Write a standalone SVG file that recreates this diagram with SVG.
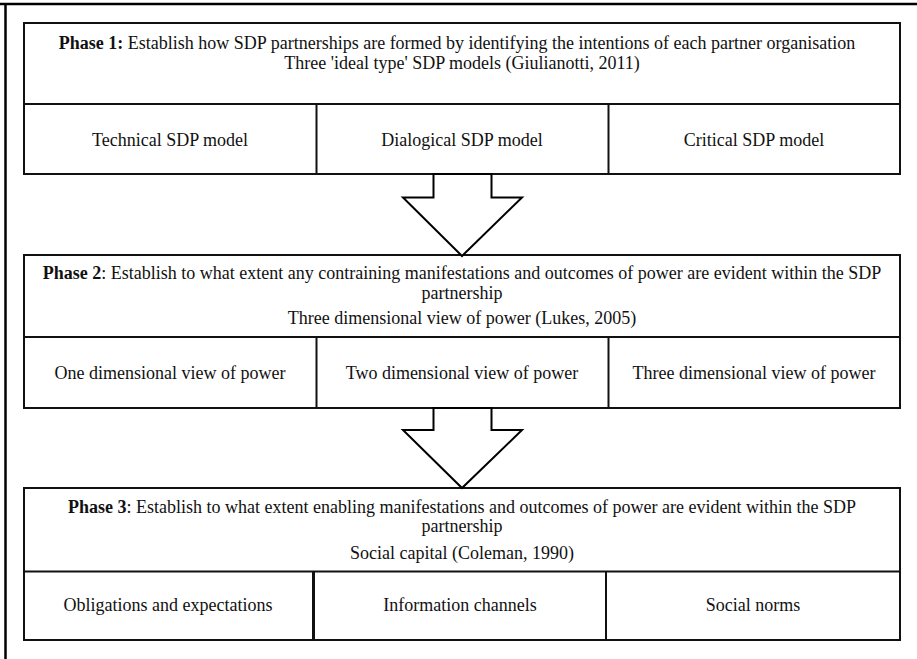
<svg xmlns="http://www.w3.org/2000/svg" width="917" height="659" viewBox="0 0 917 659">
<style>
.box{fill:#fff;stroke:#111;stroke-width:2}
.ln{stroke:#111;stroke-width:2;fill:none}
.arrow{fill:#fff;stroke:#000;stroke-width:2;stroke-linejoin:miter}
text{font-family:"Liberation Serif","Times New Roman",serif;font-size:18px;fill:#111;text-anchor:middle}
.b{font-weight:bold}
</style>
<rect width="917" height="659" fill="#fff"/>
<g id="frame">
<line x1="0" y1="4" x2="917" y2="4" stroke="#000" stroke-width="2.5"/>
<line x1="5.5" y1="3" x2="5.5" y2="659" stroke="#000" stroke-width="2.5"/>
</g>
<g id="phase1">
<rect class="box" x="24" y="23" width="876" height="151"/>
<line class="ln" x1="24" y1="104" x2="900" y2="104"/>
<line class="ln" x1="316.5" y1="104" x2="316.5" y2="174"/>
<line class="ln" x1="608.5" y1="104" x2="608.5" y2="174"/>
<text x="457" y="49"><tspan class="b">Phase 1:</tspan> Establish how SDP partnerships are formed by identifying the intentions of each partner organisation</text>
<text x="462" y="69">Three 'ideal type' SDP models (Giulianotti, 2011)</text>
<text x="170" y="146">Technical SDP model</text>
<text x="462" y="146">Dialogical SDP model</text>
<text x="754" y="146">Critical SDP model</text>
</g>
<g id="phase2">
<rect class="box" x="24" y="255" width="876" height="153"/>
<line class="ln" x1="24" y1="337" x2="900" y2="337"/>
<line class="ln" x1="316.5" y1="337" x2="316.5" y2="408"/>
<line class="ln" x1="608.5" y1="337" x2="608.5" y2="408"/>
<text x="462" y="279"><tspan class="b">Phase 2</tspan>: Establish to what extent any contraining manifestations and outcomes of power are evident within the SDP</text>
<text x="462" y="299">partnership</text>
<text x="462" y="324">Three dimensional view of power (Lukes, 2005)</text>
<text x="170" y="379">One dimensional view of power</text>
<text x="462" y="379">Two dimensional view of power</text>
<text x="754" y="379">Three dimensional view of power</text>
</g>
<g id="phase3">
<rect class="box" x="24" y="488" width="876" height="152"/>
<line class="ln" x1="24" y1="571.5" x2="900" y2="571.5"/>
<line x1="313.5" y1="571.5" x2="313.5" y2="640" stroke="#111" stroke-width="3"/>
<line class="ln" x1="606" y1="571.5" x2="606" y2="640"/>
<text x="462" y="513"><tspan class="b">Phase 3</tspan>: Establish to what extent enabling manifestations and outcomes of power are evident within the SDP</text>
<text x="462" y="532">partnership</text>
<text x="462" y="559">Social capital (Coleman, 1990)</text>
<text x="168" y="611">Obligations and expectations</text>
<text x="460" y="611">Information channels</text>
<text x="753" y="611">Social norms</text>
</g>
<g id="connectors">
<polygon class="arrow" points="433.5,174 491.5,174 491.5,197.5 522,197.5 462,256 403,197.5 433.5,197.5"/>
<polygon class="arrow" points="433.5,408 491.5,408 491.5,430 522,430 462,488 403,430 433.5,430"/>
</g>
</svg>
